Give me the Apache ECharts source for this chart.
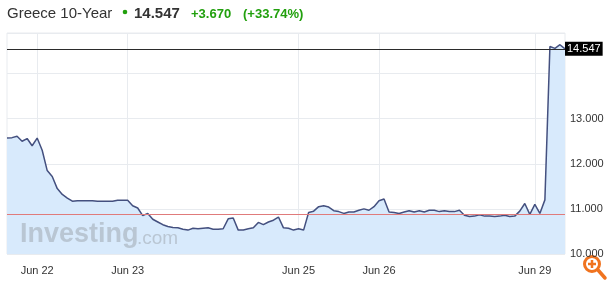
<!DOCTYPE html>
<html>
<head>
<meta charset="utf-8">
<script src="https://cdn.jsdelivr.net/npm/echarts@6/dist/echarts.min.js"></script>
<style>html,body{margin:0;padding:0;background:#fff;}#c{width:610px;height:284px;}</style>
</head>
<body>
<div id="c"></div>
<script>
// Yield values, one per sample along the x axis
const yields = [
  12.57, 12.58, 12.61, 12.50, 12.56, 12.40, 12.57, 12.30, 11.85, 11.72,
  11.45, 11.32, 11.24, 11.17, 11.18, 11.18, 11.18, 11.18, 11.17, 11.17,
  11.17, 11.17, 11.19, 11.19, 11.19, 11.07, 11.02, 10.85, 10.90, 10.77,
  10.71, 10.65, 10.61, 10.59, 10.58, 10.55, 10.53, 10.57, 10.56, 10.57,
  10.58, 10.55, 10.55, 10.56, 10.78, 10.80, 10.53, 10.53, 10.56, 10.58,
  10.70, 10.65, 10.71, 10.75, 10.82, 10.58, 10.57, 10.53, 10.56, 10.53,
  10.92, 10.95, 11.05, 11.07, 11.04, 10.96, 10.94, 10.90, 10.93, 10.93,
  10.97, 11.00, 10.97, 11.05, 11.18, 11.22, 10.93, 10.92, 10.90, 10.93,
  10.96, 10.93, 10.96, 10.93, 10.97, 10.97, 10.94, 10.96, 10.94, 10.94,
  10.97, 10.86, 10.83, 10.84, 10.87, 10.84, 10.84, 10.83, 10.84, 10.86,
  10.83, 10.84, 10.95, 11.12, 10.88, 11.10, 10.90, 11.20, 14.60, 14.56,
  14.64, 14.547
];
// x tick labels and the sample index where each appears
const tickIndex = [6, 24, 58, 74, 105];
const tickLabels = ['Jun 22', 'Jun 23', 'Jun 25', 'Jun 26', 'Jun 29'];
// y axis
const yTicks = [10, 11, 12, 13];
const lastValue = 14.547;
const prevClose = 10.877;
const change = '+3.670';
const changePct = '(+33.74%)';
const title = 'Greece 10-Year';

const categories = yields.map((v, i) => String(i));
const labelFor = {};
tickIndex.forEach((ix, k) => { labelFor[ix] = tickLabels[k]; });

const chart = echarts.init(document.getElementById('c'), null, {renderer: 'canvas'});
const FONT = 'Liberation Sans, Arial, sans-serif';
const green = '#22a00e';

chart.setOption({
  animation: false,
  grid: {left: 7, right: 45, top: 33, bottom: 30, show: true, borderColor: '#e8ebef', borderWidth: 1},
  xAxis: {
    type: 'category',
    data: categories,
    boundaryGap: false,
    axisLine: {show: false},
    axisTick: {show: false},
    axisLabel: {
      interval: (i) => labelFor[i] !== undefined,
      formatter: (v, i) => labelFor[i] || '',
      color: '#333', fontSize: 11, fontFamily: FONT, margin: 11
    },
    splitLine: {show: true, interval: (i) => labelFor[i] !== undefined, lineStyle: {color: '#e8ebef', width: 1}}
  },
  yAxis: {
    type: 'value',
    position: 'right',
    min: 10, max: 14.9, interval: 1,
    axisLine: {show: false},
    axisTick: {show: false},
    axisLabel: {
      color: '#333', fontSize: 11, fontFamily: FONT, margin: 5,
      formatter: (v) => yTicks.indexOf(Math.round(v * 1000) / 1000) >= 0 ? v.toFixed(3) : ''
    },
    splitLine: {show: true, lineStyle: {color: '#e8ebef', width: 1}}
  },
  series: [{
    type: 'line',
    data: yields,
    symbol: 'none',
    lineStyle: {color: '#44507f', width: 1.5},
    areaStyle: {color: '#d8eafc', opacity: 1},
    markLine: {
      silent: true,
      symbol: 'none',
      animation: false,
      data: [
        {yAxis: prevClose, lineStyle: {color: '#e07b7b', width: 1, type: 'solid'}, label: {show: false}},
        {yAxis: lastValue, lineStyle: {color: '#2b2b2b', width: 1, type: 'solid'},
          label: {show: true, position: 'end', distance: 0, formatter: lastValue.toFixed(3),
            backgroundColor: '#000', color: '#fff', fontSize: 11, fontFamily: FONT, padding: [2, 2, 1, 2]}}
      ]
    },
    z: 3
  }],
  graphic: [
    {type: 'text', left: 20, top: 221, z: 50, silent: true, style: {text: 'Investing', font: 'bold 27px ' + FONT, fill: 'rgba(140,145,150,0.4)'}},
    {type: 'text', left: 137, top: 229, z: 50, silent: true, style: {text: '.com', font: '19px ' + FONT, fill: 'rgba(140,145,150,0.4)'}},
    {type: 'text', x: 7, y: 21, style: {text: title, font: '15px ' + FONT, fill: '#333', textVerticalAlign: 'bottom'}},
    {type: 'circle', shape: {cx: 125, cy: 12, r: 2.3}, style: {fill: green}},
    {type: 'text', x: 134, y: 21, style: {text: lastValue.toFixed(3), font: 'bold 15px ' + FONT, fill: '#333', textVerticalAlign: 'bottom'}},
    {type: 'text', x: 191, y: 21, style: {text: change, font: 'bold 13px ' + FONT, fill: green, textVerticalAlign: 'bottom'}},
    {type: 'text', x: 243, y: 21, style: {text: changePct, font: 'bold 13px ' + FONT, fill: green, textVerticalAlign: 'bottom'}},
    {type: 'circle', shape: {cx: 592, cy: 264, r: 7.5}, style: {fill: '#fff', stroke: '#f0731f', lineWidth: 3}},
    {type: 'line', shape: {x1: 588, y1: 264, x2: 596, y2: 264}, style: {stroke: '#f0731f', lineWidth: 2.5}},
    {type: 'line', shape: {x1: 592, y1: 260, x2: 592, y2: 268}, style: {stroke: '#f0731f', lineWidth: 2.5}},
    {type: 'line', shape: {x1: 598, y1: 270, x2: 605, y2: 278}, style: {stroke: '#f0731f', lineWidth: 3.5, lineCap: 'round'}}
  ]
});
</script>
</body>
</html>
